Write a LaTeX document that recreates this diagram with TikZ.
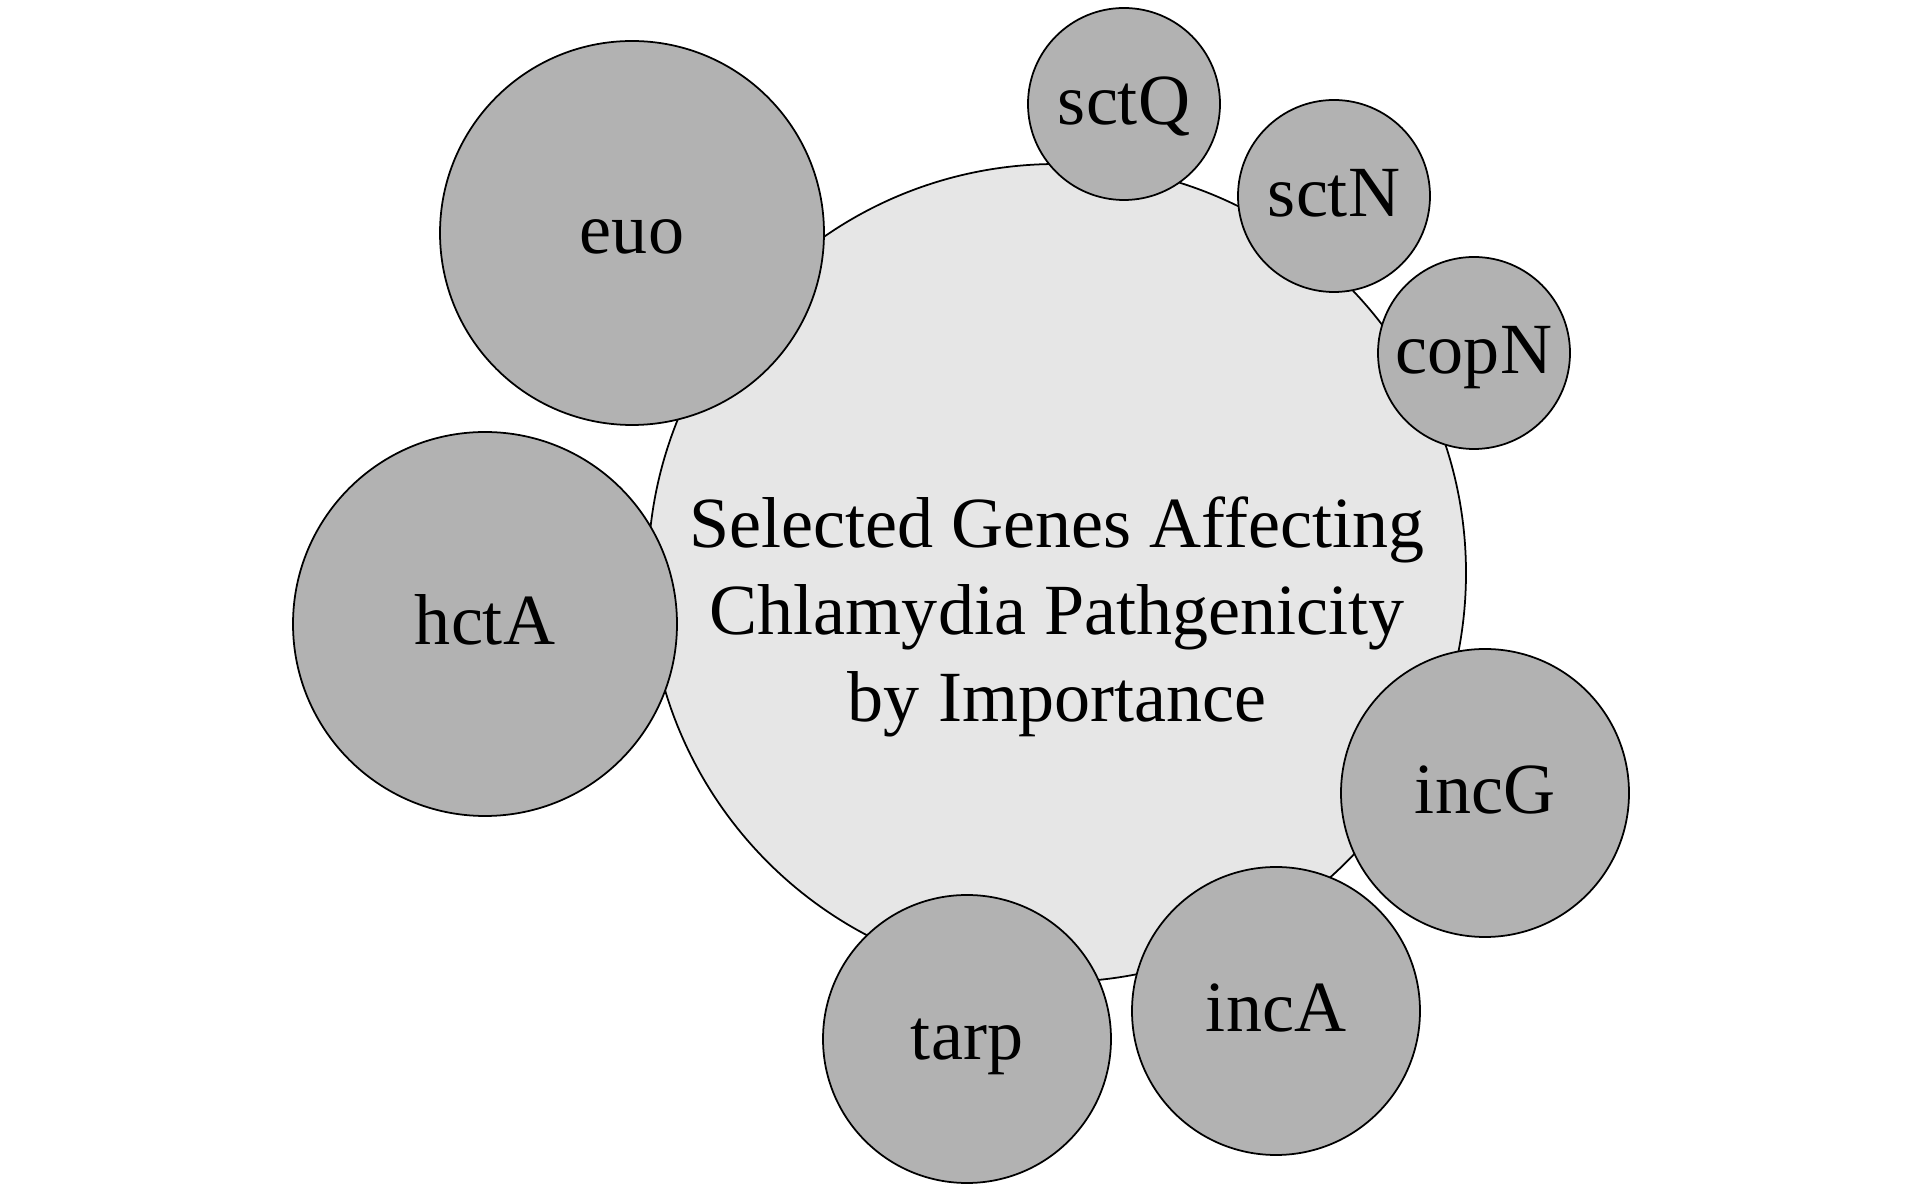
\documentclass[tikz,border=0pt]{standalone}
\usepackage{fontspec}
\setmainfont{Liberation Serif}
\definecolor{bigfill}{RGB}{230,230,230}
\definecolor{genefill}{RGB}{178,178,178}
\tikzset{
  hub/.style={circle, draw=black, line width=0.5pt, fill=bigfill, inner sep=0pt, minimum size=#1},
  gene/.style={circle, draw=black, line width=0.5pt, fill=genefill, inner sep=0pt,
    minimum size=#1, text height=11.5pt, text depth=0pt, font=\fontsize{20.5}{24.8}\selectfont},
  titleline/.style={anchor=base, inner sep=0pt, font=\fontsize{20.5}{24.8}\selectfont}
}
\begin{document}
\begin{tikzpicture}
\useasboundingbox (0,0) rectangle (19.13,11.86);
\node[hub=8.18cm] (center) at (10.57,6.13) {};
\node[titleline] (t1) at (10.57,6.38) {Selected Genes Affecting};
\node[titleline] (t2) at (10.57,5.51) {Chlamydia Pathgenicity};
\node[titleline] (t3) at (10.57,4.64) {by Importance};
\node[gene=3.84cm] (euo) at (6.32,9.53) {euo};
\node[gene=3.84cm] (hctA) at (4.85,5.62) {hctA};
\node[gene=1.92cm] (sctQ) at (11.24,10.82) {sctQ};
\node[gene=1.92cm] (sctN) at (13.34,9.90) {sctN};
\node[gene=1.92cm] (copN) at (14.74,8.33) {copN};
\node[gene=2.88cm] (incG) at (14.85,3.93) {incG};
\node[gene=2.88cm] (incA) at (12.76,1.75) {incA};
\node[gene=2.88cm] (tarp) at (9.67,1.47) {tarp};
\end{tikzpicture}
\end{document}
